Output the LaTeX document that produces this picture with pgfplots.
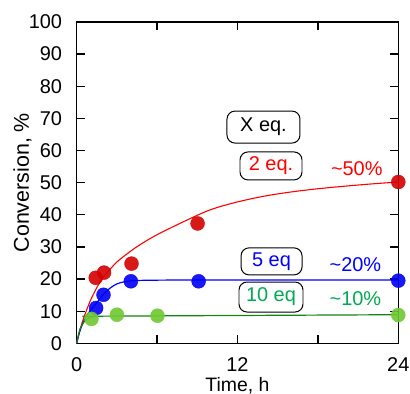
\documentclass[border=0pt]{standalone}
\usepackage{fontspec}
\setmainfont{Liberation Sans}
\usepackage{pgfplots}
\pgfplotsset{compat=1.18}
\definecolor{rmark}{RGB}{212,0,0}
\definecolor{rline}{RGB}{255,0,0}
\definecolor{bmark}{RGB}{0,0,245}
\definecolor{bline}{RGB}{0,0,255}
\definecolor{gmark}{RGB}{110,200,50}
\definecolor{gline}{RGB}{20,130,20}
\definecolor{gtext}{RGB}{0,170,80}
\begin{document}
\begin{tikzpicture}[font=\fontsize{20}{23}\selectfont]
\begin{axis}[
  scale only axis, width=321.6bp, height=321.3bp,
  xmin=0, xmax=24, ymin=0, ymax=100,
  xtick={0,6,12,18,24}, xticklabels={0,,12,,24},
  ytick={0,10,...,100},
  tick align=inside, major tick length=8bp,
  tick style={line width=1.3pt, black},
  axis line style={line width=1.3pt},
  /pgf/number format/assume math mode=true,
  ticklabel style={font=\fontsize{20}{23}\selectfont, inner sep=0pt},
  xticklabel style={anchor=north, yshift=-14.5bp},
  yticklabel style={anchor=east, xshift=-14.5bp},
  xlabel={Time, h}, ylabel={Conversion, \%},
  xlabel style={at={(axis description cs:0.5,0)}, anchor=north, inner sep=0pt, yshift=-33.5bp, font=\fontsize{19.5}{22}\selectfont},
  ylabel style={at={(axis description cs:-0.1975,0.5)}, anchor=north, inner sep=0pt, font=\fontsize{21.5}{24}\selectfont},
  clip=false,
]
% fitted curves
\addplot[rline, line width=1.1pt, smooth] coordinates {
(0,0) (0.25,4.2) (0.5,7.6) (1,13.1) (1.5,17.3) (2,20.6) (3,25.3) (4.2,29.2) (5,31.4) (6,33.8) (8,37.9) (10,41.6) (12,44.0) (14,45.8) (16,47.1) (18,48.1) (20,48.9) (22,49.6) (24,50.2)};
\addplot[bline, line width=1.2pt, smooth] coordinates {
(0,0) (0.25,4.0) (0.75,8.7) (1.5,12.6) (2,15.3) (2.5,17.2) (3,18.5) (3.5,19.1) (4,19.4) (5,19.6) (9,19.7) (24,19.7)};
\addplot[gline, line width=1.2pt, smooth] coordinates {
(0,0) (0.25,4.5) (0.62,7.0) (1.0,8.1) (1.3,8.4) (2,8.45) (24,8.9)};
% data points
\addplot[only marks, mark=*, mark size=7bp, rmark, opacity=0.9] coordinates {
(1.42,20.4) (2.04,22.0) (4.09,24.8) (9.02,37.3) (24,50.2)};
\addplot[only marks, mark=*, mark size=7bp, bmark, opacity=0.9] coordinates {
(1.45,11.0) (2.0,15.1) (4.04,19.3) (9.1,19.3) (24,19.5)};
\addplot[only marks, mark=*, mark size=7bp, gmark, opacity=0.9] coordinates {
(1.1,7.6) (3.0,8.9) (6.03,8.6) (24,8.8)};
% labels
\node[draw=black, line width=1pt, rounded corners=8bp, minimum width=73bp, minimum height=32bp, inner sep=0pt] at (axis cs:13.94,67.3) {X eq.};
\node[draw=black, line width=1pt, rounded corners=8bp, minimum width=62bp, minimum height=28bp, inner sep=0pt, text=rline] at (axis cs:14.5,55.2) {2 eq.};
\node[draw=black, line width=1pt, rounded corners=8bp, minimum width=61bp, minimum height=27bp, inner sep=0pt, text=bline] at (axis cs:14.54,25.5) {5 eq};
\node[draw=black, line width=1pt, rounded corners=8bp, minimum width=64bp, minimum height=30bp, inner sep=0pt, text=gtext] at (axis cs:14.5,14.4) {10 eq};
\node[text=rline] at (axis cs:20.9,54.5) {\textasciitilde 50\%};
\node[text=bline] at (axis cs:20.8,24.4) {\textasciitilde 20\%};
\node[text=gtext] at (axis cs:20.8,13.8) {\textasciitilde 10\%};
\end{axis}
\path (current axis.south west) ++(-76.7bp,-50.7bp) rectangle ++(410bp,394bp);
\end{tikzpicture}
\end{document}
